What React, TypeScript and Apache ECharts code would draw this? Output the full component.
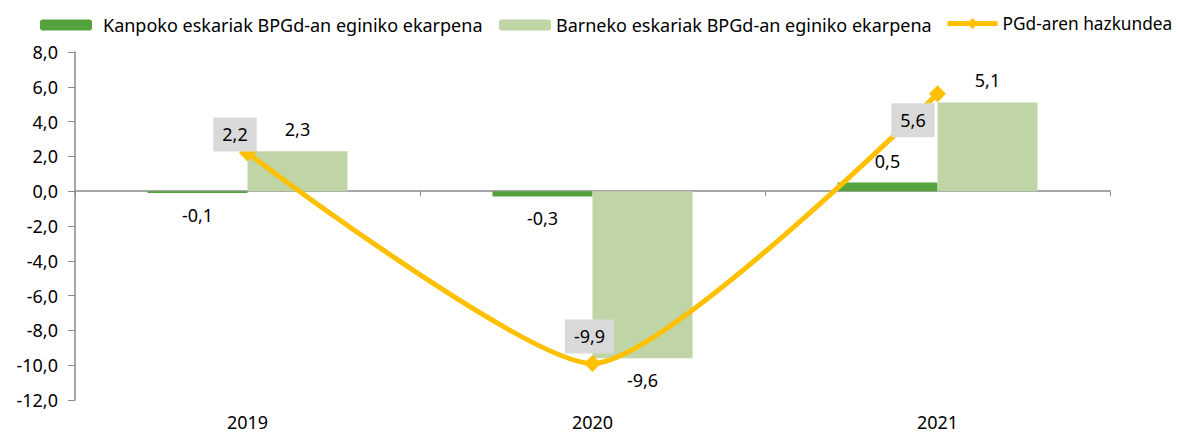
import React, { useEffect, useRef } from "react";
import * as echarts from "echarts";

const categories = ["2019", "2020", "2021"];
const kanpoko = [-0.1, -0.3, 0.5];
const barneko = [2.3, -9.6, 5.1];
const pgd = [2.2, -9.9, 5.6];
const seriesNames = [
  "Kanpoko eskariak BPGd-an eginiko ekarpena",
  "Barneko eskariak BPGd-an eginiko ekarpena",
  "PGd-aren hazkundea",
];
const yMin = -12;
const yMax = 8;
const yInterval = 2;

const lineLabelOffsets = [
  [-12.5, -18.5],
  [-3, -27],
  [-24.5, 26.5],
];

const FONT = "Noto Sans";
const fmt = (v: number) => v.toFixed(1).replace(".", ",");

export default function App() {
  const ref = useRef<HTMLDivElement>(null);
  useEffect(() => {
    if (!ref.current) return;
    const chart = echarts.init(ref.current, undefined, { renderer: "svg" });
    const textStyle = { fontFamily: FONT, fontSize: 18, color: "#000" };
    const legendText = { fontFamily: FONT, fontSize: 18, color: "#000" };
    const barLabel = (v: number) => ({
      value: v,
      label: { position: v < 0 ? "bottom" : "top" },
    });
    chart.setOption({
      animation: false,
      textStyle: { fontFamily: FONT },
      legend: [
        {
          data: [seriesNames[0]],
          left: 35,
          top: 11,
          itemWidth: 52,
          itemHeight: 11,
          textStyle: { ...legendText, padding: [0, 0, 0, 6] },
        },
        {
          data: [seriesNames[1]],
          left: 494,
          top: 11,
          itemWidth: 52,
          itemHeight: 11,
          textStyle: { ...legendText, padding: [0, 0, 0, 0] },
        },
        {
          data: [seriesNames[2]],
          left: 940,
          top: 10,
          itemWidth: 50,
          itemHeight: 14,
          lineStyle: { width: 5 },
          textStyle: { ...legendText, fontSize: 17.3, padding: [0, 0, 0, 0] },
        },
      ],
      grid: { left: 75, right: 69, top: 52, bottom: 34 },
      xAxis: [
        {
          type: "category",
          data: categories,
          axisLine: { onZero: true, lineStyle: { color: "#8a8a8a", width: 1.5 } },
          axisTick: { show: true, length: 5, lineStyle: { color: "#8a8a8a" } },
          axisLabel: { show: false },
        },
        {
          type: "category",
          data: categories,
          position: "bottom",
          axisLine: { show: false, onZero: false },
          axisTick: { show: false },
          axisLabel: { ...textStyle, margin: 13 },
        },
      ],
      yAxis: {
        type: "value",
        min: yMin,
        max: yMax,
        interval: yInterval,
        splitLine: { show: false },
        axisLine: { show: true, lineStyle: { color: "#8a8a8a", width: 1.5 } },
        axisTick: { show: true, length: 7, lineStyle: { color: "#8a8a8a" } },
        axisLabel: { ...textStyle, margin: 17, formatter: (v: number) => fmt(v) },
      },
      series: [
        {
          name: seriesNames[0],
          type: "bar",
          xAxisIndex: 0,
          barWidth: 100,
          barGap: "0%",
          itemStyle: { color: "#55A23C" },
          label: { show: true, ...textStyle, distance: 13, formatter: (p: any) => fmt(p.value) },
          data: kanpoko.map(barLabel),
        },
        {
          name: seriesNames[1],
          type: "bar",
          xAxisIndex: 0,
          barWidth: 100,
          barGap: "0%",
          itemStyle: { color: "#C0D5A5" },
          label: { show: true, ...textStyle, distance: 13, formatter: (p: any) => fmt(p.value) },
          data: barneko.map(barLabel),
        },
        {
          name: seriesNames[2],
          type: "line",
          xAxisIndex: 0,
          smooth: 0.2,
          symbol: "diamond",
          symbolSize: 17,
          z: 5,
          lineStyle: { color: "#FFC000", width: 5 },
          itemStyle: { color: "#FFC000" },
          label: {
            show: true,
            position: "inside",
            ...textStyle,
            lineHeight: 18,
            backgroundColor: "#D9D9D9",
            padding: [8, 9],
            formatter: (p: any) => fmt(p.value),
          },
          data: pgd.map((v, i) => ({ value: v, label: { offset: lineLabelOffsets[i] } })),
        },
      ],
    });
    return () => chart.dispose();
  }, []);
  return (
    <div
      ref={ref}
      style={{ position: "absolute", left: 0, top: 0, width: 1179, height: 434 }}
    />
  );
}
